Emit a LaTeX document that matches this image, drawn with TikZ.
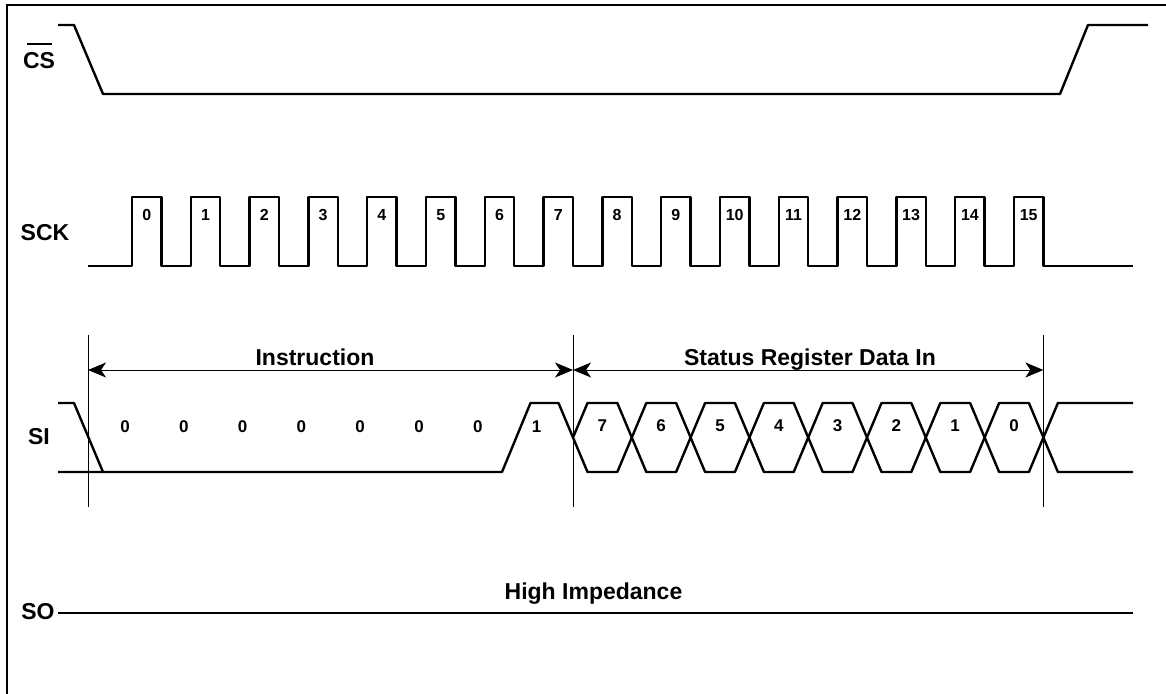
\documentclass[tikz,border=0pt]{standalone}
\usepackage{fontspec}
\setmainfont{Liberation Sans}
\usetikzlibrary{arrows.meta}
\begin{document}
\begin{tikzpicture}[x=1pt,y=-1pt,
  sig/.style={line width=2.4pt, line join=round},
  guide/.style={line width=1pt},
  lbl/.style={font=\fontsize{23}{25}\selectfont\bfseries, inner sep=0pt},
  num/.style={font=\fontsize{16}{18}\selectfont\bfseries, inner sep=0pt},
  bitlbl/.style={font=\fontsize{17}{19}\selectfont\bfseries, inner sep=0pt},
  dimarrow/.style={line width=1pt, {Stealth[length=18pt,width=15pt,inset=5pt]}-{Stealth[length=18pt,width=15pt,inset=5pt]}}]
\useasboundingbox (0,0) rectangle (1166,693);
% frame
\draw[line width=2.5pt] (1170,5) -- (7,5) -- (7,700);

% labels
\node[lbl] (cs) at (39,61) {CS};
\draw[line width=2.2pt] (27,44) -- (52,44);
\node[lbl] (sck) at (45,233) {SCK};
\node[lbl] (si) at (39,437) {SI};
\node[lbl] (so) at (38,612) {SO};

% CS
\draw[sig] (58,25) -- (74,25) -- (103,94) -- (1060,94) -- (1088,25) -- (1148,25);

% SCK
\draw[sig] (88,266) foreach \k in {0,...,15} { -- ({132+58.8*\k},266) -- ({132+58.8*\k},197) -- ({161.4+58.8*\k},197) -- ({161.4+58.8*\k},266) } -- (1133,266);
\foreach \k in {0,...,15} \node[num] (p\k) at ({146.7+58.8*\k},215) {\k};

% guide lines
\coordinate (g1t) at (88,335);   \coordinate (g1b) at (88,507);
\coordinate (g2t) at (573,335);  \coordinate (g2b) at (573,507);
\coordinate (g3t) at (1043.4,335); \coordinate (g3b) at (1043.4,507);
\draw[guide] (g1t) -- (g1b);
\draw[guide] (g2t) -- (g2b);
\draw[guide] (g3t) -- (g3b);
\coordinate (a1) at (88,370);
\coordinate (a2) at (573,370);
\coordinate (a3) at (1043.4,370);
\draw[dimarrow] (a1) -- (a2);
\draw[dimarrow] (a2) -- (a3);
\node[lbl, anchor=base] (instr) at (315,365) {Instruction};
\node[lbl, anchor=base] (srdi) at (810,365) {Status Register Data In};

% SI
\draw[sig] (58,403) -- (74,403) -- (103,472);
\draw[sig] (58,472) -- (502,472) -- (530.5,403) -- (558.5,403) -- (573,437.5);
\foreach \k in {0,...,7} {
  \draw[sig] ({573+58.8*\k},437.5) -- ({587.5+58.8*\k},403) -- ({617.3+58.8*\k},403) -- ({631.8+58.8*\k},437.5) -- ({617.3+58.8*\k},472) -- ({587.5+58.8*\k},472) -- cycle;
}
\draw[sig] (1133,403) -- (1057.9,403) -- (1043.4,437.5) -- (1057.9,472) -- (1133,472);
\foreach \k/\b in {0/0,1/0,2/0,3/0,4/0,5/0,6/0,7/1} \node[bitlbl] (i\k) at ({125+58.8*\k},427) {\b};
\foreach \k/\b in {0/7,1/6,2/5,3/4,4/3,5/2,6/1,7/0} \node[bitlbl] (d\k) at ({602.4+58.8*\k},426) {\b};

% SO
\draw[sig] (58,613) -- (1133,613);
\node[lbl, anchor=base] (hiz) at (593.5,599.5) {High Impedance};
\end{tikzpicture}
\end{document}
